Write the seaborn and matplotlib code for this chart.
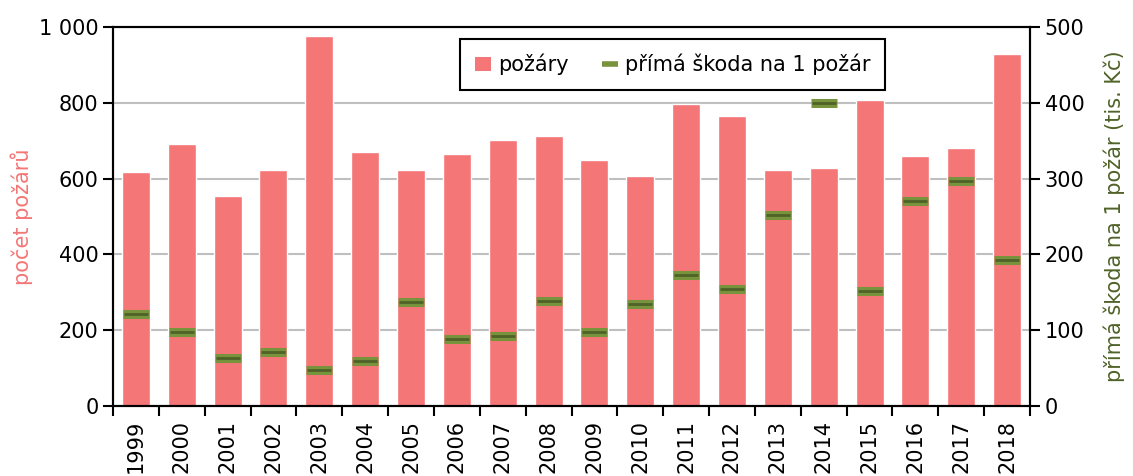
import numpy as np
import matplotlib
matplotlib.use("Agg")
import matplotlib.pyplot as plt
import seaborn as sns
from matplotlib.patches import Patch
from matplotlib.lines import Line2D
from matplotlib.ticker import FuncFormatter, MultipleLocator, FixedLocator

# data
years = [str(y) for y in range(1999, 2019)]
fires = [617, 691, 553, 622, 975, 670, 623, 664, 701, 712,
         648, 607, 796, 765, 622, 627, 807, 660, 681, 929]
damage = [121, 97, 63, 71, 47, 60, 137, 89, 92, 139,
          97, 134, 173, 155, 252, 400, 152, 271, 297, 192]

bar_color = "#F47676"
green = "#77933C"
dark_green = "#4F6228"

sns.set_style("white")
plt.rcParams["font.family"] = ["DejaVu Sans"]
plt.rcParams["font.size"] = 15
plt.rcParams["text.color"] = "black"
plt.rcParams["xtick.color"] = "black"
plt.rcParams["ytick.color"] = "black"

fig = plt.figure(figsize=(11.33, 4.76), dpi=100)
ax = fig.add_axes([113 / 1133, 1 - 406 / 476, 917 / 1133, 379 / 476])

sns.barplot(x=years, y=fires, color=bar_color, width=0.61, saturation=1, ax=ax)
ax.set_xlim(-0.5, len(years) - 0.5)
ax.set_ylim(0, 1000)
ax.yaxis.set_major_locator(MultipleLocator(200))
ax.yaxis.set_major_formatter(FuncFormatter(lambda v, p: f"{int(v):,}".replace(",", " ")))
ax.grid(axis="y", color="#BFBFBF", linewidth=1.5)
ax.set_axisbelow(True)
ax.set_xlabel("")
ax.set_ylabel("počet požárů", color=bar_color, fontsize=15, labelpad=4)

# x ticks between categories
ax.xaxis.set_minor_locator(FixedLocator(np.arange(-0.5, len(years), 1)))
ax.tick_params(axis="x", which="major", length=0, rotation=90, labelsize=15, pad=10)
ax.tick_params(axis="x", which="minor", length=7, width=1.5, direction="out", bottom=True)
ax.tick_params(axis="y", length=7, width=1.5, direction="out", left=True, labelsize=15)

for s in ax.spines.values():
    s.set_color("black")
    s.set_linewidth(1.5)

ax2 = ax.twinx()
xs = np.arange(len(years))
sns.scatterplot(x=xs, y=damage, marker="_", s=340, linewidth=6.5, color=green, ax=ax2, zorder=3)
sns.scatterplot(x=xs, y=damage, marker="_", s=280, linewidth=2, color=dark_green, ax=ax2, zorder=4)
ax2.set_ylim(0, 500)
ax2.set_xlim(-0.5, len(years) - 0.5)
ax2.yaxis.set_major_locator(MultipleLocator(100))
ax2.tick_params(axis="y", length=7, width=1.5, direction="out", right=True, labelsize=15)
ax2.set_ylabel("přímá škoda na 1 požár (tis. Kč)", color=dark_green, fontsize=15, labelpad=14)
for s in ax2.spines.values():
    s.set_color("black")
    s.set_linewidth(1.5)

handles = [
    Patch(facecolor=bar_color, edgecolor="none"),
    Line2D([], [], linestyle="none", marker="_", markersize=12, markeredgewidth=4, color=green),
]
leg = ax2.legend(handles, ["požáry", "přímá škoda na 1 požár"], loc="upper center",
                 bbox_to_anchor=(0.61, 0.968), ncol=2, fancybox=False, framealpha=1,
                 edgecolor="black", fontsize=15, handlelength=0.8, handletextpad=0.3,
                 columnspacing=1.6, borderpad=0.7, borderaxespad=0)
leg.get_frame().set_linewidth(1.5)

fig.savefig("out.png", dpi=100)
